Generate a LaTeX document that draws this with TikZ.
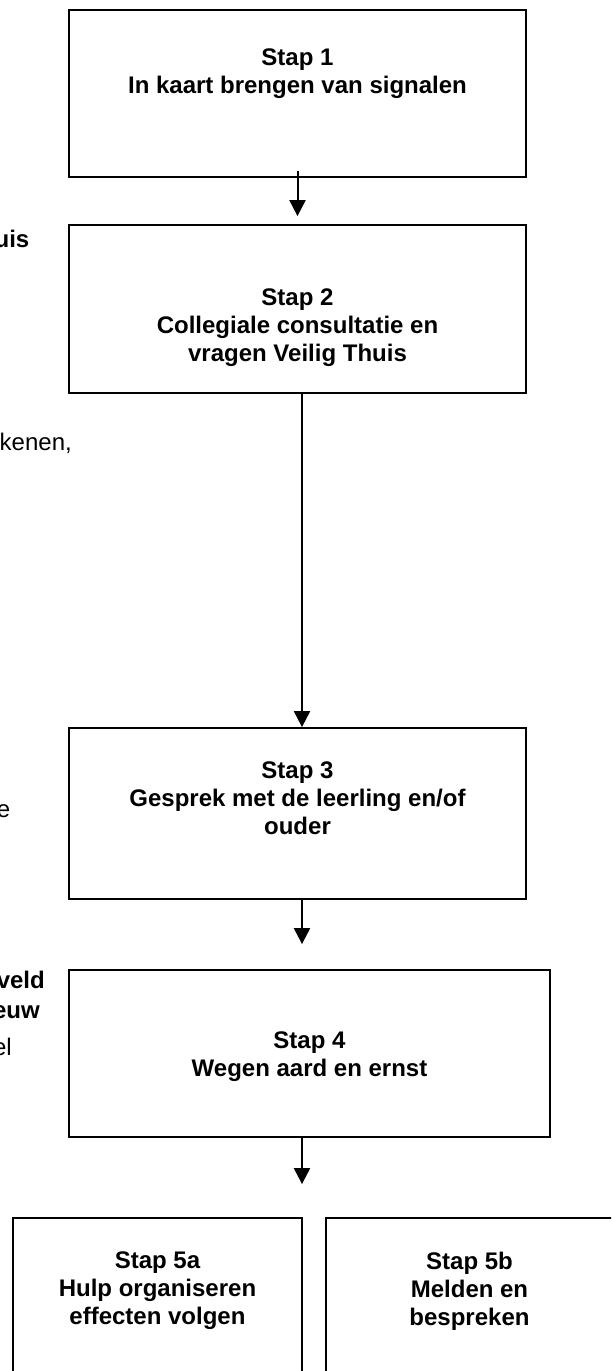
\documentclass[tikz,border=0pt]{standalone}
\usepackage{fontspec}
\setmainfont{Liberation Sans}
\usepackage{tikz}
\usetikzlibrary{arrows.meta}

\begin{document}
\begin{tikzpicture}[x=1pt, y=-1pt,
  stapbox/.style={draw, line width=1.8pt, inner sep=0pt},
  staptext/.style={font=\bfseries\fontsize{24}{28}\selectfont, align=center, inner sep=0pt},
  sidebold/.style={font=\bfseries\fontsize{24}{28}\selectfont, anchor=base east, inner sep=0pt},
  sidetext/.style={font=\fontsize{24}{28}\selectfont, anchor=base east, inner sep=0pt},
  arr/.style={line width=2pt, -{Triangle[width=16pt,length=16pt]}}]
  \useasboundingbox (0,0) rectangle (611,1371);
  \fill[white] (0,0) rectangle (611,1371);
  \clip (0,0) rectangle (611,1371);
  % the steps
  \node[stapbox, minimum width=457pt, minimum height=167pt] (b1) at (297.5,93.5) {};
  \node[stapbox, minimum width=457pt, minimum height=168pt] (b2) at (297.5,309) {};
  \node[stapbox, minimum width=457pt, minimum height=171pt] (b3) at (297.5,813.5) {};
  \node[stapbox, minimum width=481pt, minimum height=167pt] (b4) at (309.5,1053.5) {};
  \node[stapbox, minimum width=289pt, minimum height=170pt] (b5a) at (157.5,1303) {};
  \node[stapbox, minimum width=287pt, minimum height=170pt] (b5b) at (469.5,1303) {};
  \node[staptext] (t1) at (297.5,74) {Stap 1\\In kaart brengen van signalen};
  \node[staptext] (t2) at (297.5,328) {Stap 2\\Collegiale consultatie en\\vragen Veilig Thuis};
  \node[staptext] (t3) at (297.5,798) {Stap 3\\Gesprek met de leerling en/of\\ouder};
  \node[staptext] (t4) at (309.5,1057) {Stap 4\\Wegen aard en ernst};
  \node[staptext] (t5a) at (157.5,1291) {Stap 5a\\Hulp organiseren\\effecten volgen};
  \node[staptext] (t5b) at (469.5,1291) {Stap 5b\\Melden en\\bespreken};
  % arrows
  \draw[arr] ([yshift=7pt]b1.south) -- ([yshift=8pt]b2.north);
  \draw[arr] ([xshift=4.5pt]b2.south) -- ([xshift=4.5pt]b3.north);
  \draw[arr] ([xshift=4.5pt]b3.south) -- ([xshift=-7.5pt,yshift=25pt]b4.north);
  \draw[arr] ([xshift=-7.5pt]b4.south) -- ([xshift=-0.9pt,yshift=33pt]b5a.north east);
  % cut off text at the left
  \node[sidebold] (f1) at (29.5,247) {uis};
  \node[sidetext] (f2) at (72,450) {kenen,};
  \node[sidetext] (f3) at (10.5,817) {e};
  \node[sidebold] (f4) at (45,988) {veld};
  \node[sidebold] (f5) at (40,1018) {euw};
  \node[sidetext] (f6) at (12,1055) {el};
\end{tikzpicture}
\end{document}
